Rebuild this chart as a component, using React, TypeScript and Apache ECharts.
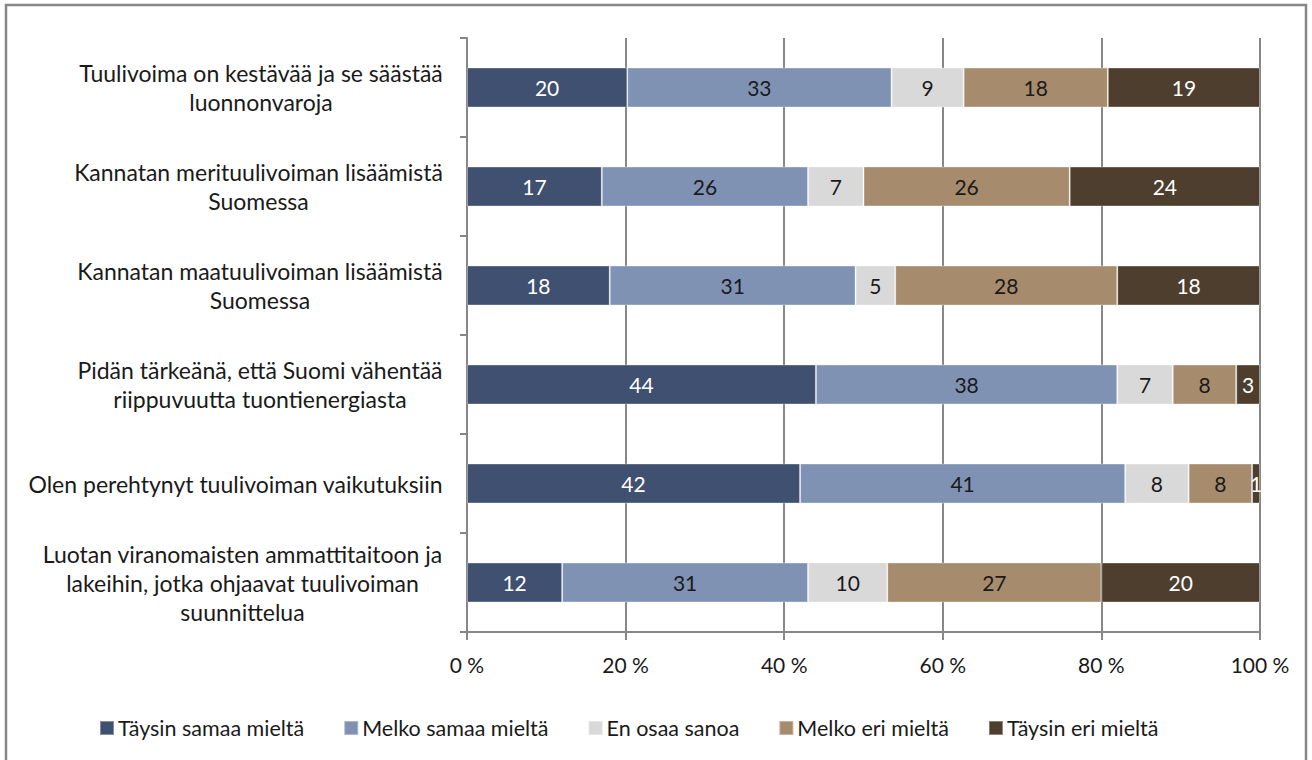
import React, { useEffect, useRef } from "react";
import * as echarts from "echarts";

const categories = [
  "Tuulivoima on kestävää ja se säästää\nluonnonvaroja",
  "Kannatan merituulivoiman lisäämistä\nSuomessa",
  "Kannatan maatuulivoiman lisäämistä\nSuomessa",
  "Pidän tärkeänä, että Suomi vähentää\nriippuvuutta tuontienergiasta",
  "Olen perehtynyt tuulivoiman vaikutuksiin",
  "Luotan viranomaisten ammattitaitoon ja\nlakeihin, jotka ohjaavat tuulivoiman\nsuunnittelua",
];

const seriesNames = [
  "Täysin samaa mieltä",
  "Melko samaa mieltä",
  "En osaa sanoa",
  "Melko eri mieltä",
  "Täysin eri mieltä",
];

const taysinSamaa = [20, 17, 18, 44, 42, 12];
const melkoSamaa = [33, 26, 31, 38, 41, 31];
const enOsaa = [9, 7, 5, 7, 8, 10];
const melkoEri = [18, 26, 28, 8, 8, 27];
const taysinEri = [19, 24, 18, 3, 1, 20];

const xTicks = [0, 20, 40, 60, 80, 100];

const colors = ["#3F5070", "#7F92B4", "#D9D9D9", "#A68B6D", "#4E3E2E"];
const labelColors = ["#FFFFFF", "#1a1a1a", "#1a1a1a", "#1a1a1a", "#FFFFFF"];

const FONT = "Lato, 'Noto Sans', sans-serif";
const CAT_FS = 23;
const FS = 21;

export default function App() {
  const ref = useRef<HTMLDivElement>(null);
  useEffect(() => {
    if (!ref.current) return;
    const chart = echarts.init(ref.current, undefined, { renderer: "svg" });
    const raw = [taysinSamaa, melkoSamaa, enOsaa, melkoEri, taysinEri];
    const sums = categories.map((_, i) => raw.reduce((s, arr) => s + arr[i], 0));

    // measure label widths so lines are centered inside a right-aligned block
    const cv = document.createElement("canvas");
    const ctx = cv.getContext("2d")!;
    ctx.font = `${CAT_FS}px ${FONT}`;
    const rich: Record<string, any> = {};
    categories.forEach((c, i) => {
      const w = Math.max(...c.split("\n").map((l) => ctx.measureText(l).width));
      rich["c" + i] = {
        width: Math.ceil(w) + 2,
        align: "center",
        fontSize: CAT_FS,
        fontFamily: FONT,
        color: "#1a1a1a",
        lineHeight: 29,
      };
    });

    chart.setOption({
      animation: false,
      textStyle: { fontFamily: FONT },
      grid: { left: 467, right: 52, top: 38, bottom: 128, containLabel: false },
      graphic: [
        {
          type: "rect",
          shape: { x: 6, y: 5, width: 1300, height: 780 },
          style: { fill: "none", stroke: "#878787", lineWidth: 2.5 },
          silent: true,
          z: -10,
        },
      ],
      legend: {
        data: seriesNames,
        top: 717,
        left: 99,
        padding: 0,
        icon: "rect",
        itemWidth: 14,
        itemHeight: 14,
        itemGap: 39,
        textStyle: { fontSize: 21.5, fontFamily: FONT, color: "#1a1a1a", padding: [0, 0, 0, -1] },
      },
      xAxis: {
        type: "value",
        min: 0,
        max: 100,
        interval: 20,
        axisLine: { show: true, lineStyle: { color: "#878787", width: 2 } },
        axisTick: { show: true, length: 8, lineStyle: { color: "#878787", width: 2 } },
        splitLine: { show: true, lineStyle: { color: "#878787", width: 2 } },
        axisLabel: {
          fontSize: FS,
          fontFamily: FONT,
          color: "#1a1a1a",
          margin: 22,
          formatter: (v: number) => (xTicks.includes(v) ? v + " %" : ""),
        },
      },
      yAxis: {
        type: "category",
        data: categories,
        inverse: true,
        axisLine: { show: true, lineStyle: { color: "#878787", width: 2 } },
        axisTick: { show: true, length: 7, lineStyle: { color: "#878787", width: 2 } },
        axisLabel: {
          margin: 23,
          align: "right",
          formatter: (v: string) => {
            const i = categories.indexOf(v);
            return v
              .split("\n")
              .map((l) => `{c${i}|${l}}`)
              .join("\n");
          },
          rich,
        },
      },
      series: raw.map((arr, si) => ({
        name: seriesNames[si],
        type: "bar",
        stack: "total",
        barWidth: 40,
        itemStyle: { color: colors[si], borderColor: "rgba(255,255,255,0.35)", borderWidth: 1 },
        label: {
          show: true,
          position: "inside",
          fontSize: FS,
          fontFamily: FONT,
          color: labelColors[si],
          formatter: (p: any) => String(arr[p.dataIndex]),
        },
        data: arr.map((v, i) => (v / sums[i]) * 100),
      })),
    });
    return () => chart.dispose();
  }, []);
  return (
    <div
      ref={ref}
      style={{ position: "absolute", left: 0, top: 0, width: 1312, height: 760, background: "#fff" }}
    />
  );
}
